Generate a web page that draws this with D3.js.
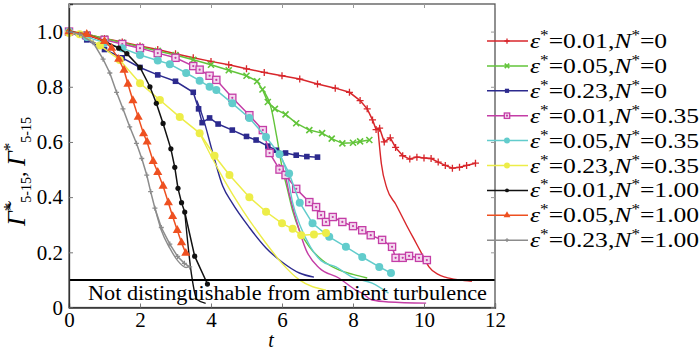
<!DOCTYPE html>
<html>
<head>
<meta charset="utf-8">
<script src="https://cdn.jsdelivr.net/npm/d3@7"></script>
<style>
    body { margin: 0; background: #fff; }
    svg { display: block; }
</style>
</head>
<body>
<svg id="chart" width="700" height="352" font-family="Liberation Serif, Times New Roman, DejaVu Serif, serif"></svg>
<script>
// Gamma* (marked) and Gamma~* (thin) against t
const red01 = [[0,1.0],[0.5,0.99],[1,0.975],[1.5,0.962],[2,0.948],[2.5,0.935],[3,0.92],[3.5,0.905],[4,0.892],[4.5,0.88],[5,0.865],[5.5,0.852],[6,0.84],[6.5,0.828],[7,0.81],[7.5,0.795],[7.9,0.78],[8.2,0.75],[8.4,0.72],[8.55,0.68],[8.65,0.645],[8.75,0.65],[8.88,0.6],[9.05,0.615],[9.2,0.58],[9.4,0.55],[9.6,0.538],[9.8,0.545],[10,0.542],[10.2,0.54],[10.4,0.527],[10.6,0.515],[10.8,0.505],[11,0.508],[11.2,0.515],[11.45,0.523]];
const red01Thin = [[8.7,0.65],[8.8,0.52],[8.96,0.43],[9.2,0.375],[9.5,0.3],[9.78,0.233],[10,0.18],[10.14,0.147],[10.4,0.12],[10.6,0.11],[10.98,0.1],[11.35,0.095]];

const green05 = [[0,1.0],[0.5,0.99],[1,0.975],[1.5,0.96],[2,0.945],[2.5,0.93],[3,0.915],[3.5,0.898],[4,0.88],[4.5,0.86],[5,0.84],[5.3,0.82],[5.45,0.79],[5.6,0.745],[5.8,0.72],[6.1,0.7],[6.4,0.668],[6.77,0.643],[7.13,0.632],[7.4,0.612],[7.7,0.595],[8,0.597],[8.2,0.602],[8.46,0.607]];
const green05Thin = [[5.45,0.79],[5.7,0.72],[5.85,0.62],[6,0.51],[6.15,0.43],[6.3,0.35],[6.49,0.28],[6.77,0.22],[7.13,0.172],[7.6,0.136],[8,0.12],[8.4,0.107]];

const navy23 = [[0,1.0],[0.5,0.97],[1,0.935],[1.5,0.905],[2,0.87],[2.5,0.843],[3,0.82],[3.5,0.78],[3.65,0.72],[3.75,0.67],[3.96,0.687],[4.2,0.665],[4.6,0.643],[5,0.62],[5.27,0.607],[5.6,0.585],[5.84,0.57],[6.1,0.56],[6.4,0.552],[6.7,0.547],[7,0.545]];
const navy23Thin = [[3.6,0.75],[3.77,0.69],[4.05,0.56],[4.33,0.44],[4.6,0.378],[5.08,0.29],[5.55,0.216],[6,0.165],[6.49,0.125],[6.9,0.11]];

const magenta01 = [[0,1.0],[0.5,0.985],[1,0.97],[1.5,0.955],[2,0.94],[2.5,0.922],[3,0.905],[3.5,0.875],[3.68,0.862],[3.96,0.84],[4.15,0.825],[4.6,0.76],[5.08,0.697],[5.46,0.643],[5.65,0.56],[5.93,0.5],[6.1,0.48],[6.4,0.43],[6.77,0.382],[6.96,0.364],[7.1,0.335],[7.24,0.31],[7.43,0.328],[7.7,0.31],[8,0.295],[8.26,0.28],[8.5,0.262],[8.82,0.245],[9.1,0.22],[9.2,0.18],[9.4,0.18],[9.58,0.187],[9.86,0.18],[10.08,0.172]];
const magenta01Thin = [[5.9,0.52],[6.07,0.49],[6.2,0.414],[6.4,0.317],[6.68,0.208],[7.05,0.143],[7.6,0.107],[8.08,0.063],[8.26,0.052],[8.54,0.027],[9,0.02],[10.06,0.016]];

const cyan05 = [[0,1.0],[0.5,0.98],[1,0.96],[1.5,0.94],[2,0.915],[2.5,0.895],[2.84,0.882],[3.3,0.85],[3.68,0.822],[3.96,0.8],[4.15,0.788],[4.6,0.74],[5.08,0.687],[5.55,0.618],[5.93,0.555],[6.2,0.486],[6.5,0.38],[6.86,0.305],[7.33,0.256],[7.8,0.22],[8.26,0.183],[8.74,0.147],[9.07,0.125]];
const cyan05Thin = [[6,0.54],[6.15,0.48],[6.3,0.38],[6.5,0.3],[6.8,0.22],[7.1,0.17],[7.52,0.147],[7.98,0.11],[8.54,0.088],[9,0.052]];

const yellow23 = [[0,0.995],[0.3,0.99],[0.87,0.95],[1.43,0.897],[2,0.813],[2.56,0.752],[3.12,0.69],[3.68,0.632],[4.1,0.55],[4.52,0.48],[5.08,0.4],[5.55,0.347],[6,0.305],[6.3,0.285],[6.54,0.262],[6.9,0.265],[7.24,0.27]];
const yellow23Thin = [[3.68,0.632],[4,0.55],[4.38,0.46],[4.89,0.353],[5.55,0.233],[6,0.16],[6.49,0.1],[7.24,0.063]];

const black01 = [[0,1.0],[0.5,0.99],[1,0.965],[1.4,0.94],[1.63,0.92],[2,0.87],[2.28,0.8],[2.46,0.74],[2.65,0.667],[2.87,0.575],[2.98,0.508],[3.07,0.432],[3.17,0.38],[3.26,0.346],[3.54,0.186],[3.9,0.085]];
const black01Thin = [[3.26,0.346],[3.45,0.12],[3.6,0.03],[3.85,0.015]];

const orange05 = [[0,1.0],[0.5,0.99],[1,0.965],[1.2,0.94],[1.4,0.9],[1.55,0.86],[1.66,0.81],[1.8,0.75],[1.95,0.69],[2.1,0.63],[2.2,0.6],[2.37,0.53],[2.5,0.49],[2.65,0.44],[2.8,0.38],[2.92,0.33],[3.05,0.28],[3.17,0.235],[3.29,0.197]];

const gray23 = [[0,1.0],[0.3,0.99],[0.68,0.96],[0.96,0.9],[1.15,0.85],[1.34,0.78],[1.52,0.72],[1.71,0.655],[1.9,0.595],[2.05,0.54],[2.19,0.48],[2.3,0.42],[2.42,0.36],[2.6,0.29],[2.84,0.23],[3.06,0.185],[3.25,0.16],[3.4,0.147]];
const gray23Thin = [[2.42,0.36],[2.6,0.28],[2.84,0.215],[3.06,0.17],[3.3,0.145],[3.4,0.15]];

const epsLabels = ["0.01", "0.05", "0.23", "0.01", "0.05", "0.23", "0.01", "0.05", "0.23"];
const nLabels = ["0", "0", "0", "0.35", "0.35", "0.35", "1.00", "1.00", "1.00"];
const xTicks = [0, 2, 4, 6, 8, 10, 12];
const yTicks = [0, 0.2, 0.4, 0.6, 0.8, 1.0];

const series = [
    { data: red01, thin: red01Thin, color: '#d8262b', marker: 'plus' },
    { data: green05, thin: green05Thin, color: '#62c43a', marker: 'cross' },
    { data: navy23, thin: navy23Thin, color: '#2c2a8e', marker: 'square' },
    { data: magenta01, thin: magenta01Thin, color: '#c43da6', marker: 'openSquare' },
    { data: cyan05, thin: cyan05Thin, color: '#62cccc', marker: 'bigCircle' },
    { data: yellow23, thin: yellow23Thin, color: '#eded48', marker: 'bigCircle' },
    { data: black01, thin: black01Thin, color: '#111111', marker: 'dot' },
    { data: orange05, thin: null, color: '#ee5020', marker: 'triangle' },
    { data: gray23, thin: gray23Thin, color: '#8c8c8c', marker: 'smallPlus' }
];

const SERIF = 'Liberation Serif, Times New Roman, DejaVu Serif, serif';

const svg = d3.select('#chart');
const margin = { left: 69, right: 495, top: 4, bottom: 307.5 };

const x = d3.scaleLinear().domain([0, 12]).range([margin.left, margin.right]);
const y = d3.scaleLinear().domain([0, 1.1]).range([margin.bottom, margin.top]);

// Draw one marker of the given kind into a group
function addMarker(g, kind, color, s) {
    if (kind === 'plus' || kind === 'smallPlus') {
        const r = (kind === 'plus' ? 3.5 : 2.5) * s;
        g.append('path').attr('d', `M${-r},0H${r}M0,${-r}V${r}`)
            .attr('stroke', color).attr('stroke-width', 1.3).attr('fill', 'none');
    } else if (kind === 'cross') {
        const r = 3 * s;
        g.append('path').attr('d', `M${-r},${-r}L${r},${r}M${-r},${r}L${r},${-r}`)
            .attr('stroke', color).attr('stroke-width', 1.6).attr('fill', 'none');
    } else if (kind === 'square') {
        const r = 2.8 * s;
        g.append('rect').attr('x', -r).attr('y', -r).attr('width', 2 * r).attr('height', 2 * r)
            .attr('fill', color);
    } else if (kind === 'openSquare') {
        const r = 3.6 * s;
        g.append('rect').attr('x', -r).attr('y', -r).attr('width', 2 * r).attr('height', 2 * r)
            .attr('fill', '#f3d8ee').attr('stroke', color).attr('stroke-width', 1.3);
        g.append('circle').attr('r', 1.1).attr('fill', color);
    } else if (kind === 'bigCircle') {
        g.append('circle').attr('r', 4 * s).attr('fill', color);
    } else if (kind === 'dot') {
        g.append('circle').attr('r', 2.6 * s).attr('fill', color);
    } else if (kind === 'triangle') {
        g.append('path').attr('d', d3.symbol(d3.symbolTriangle, 36 * s * s)()).attr('fill', color);
    }
}

const line = d3.line().x(d => x(d[0])).y(d => y(d[1]));
const smooth = d3.line().x(d => x(d[0])).y(d => y(d[1])).curve(d3.curveMonotoneX);

const plot = svg.append('g').attr('class', 'plot');

// Thin (Gamma~) curves first
series.forEach(s => {
    if (!s.thin) return;
    plot.append('path')
        .datum(s.thin)
        .attr('d', smooth)
        .attr('fill', 'none')
        .attr('stroke', s.color)
        .attr('stroke-width', 1.4);
});

// Marked (Gamma) curves
series.forEach(s => {
    plot.append('path')
        .datum(s.data)
        .attr('d', line)
        .attr('fill', 'none')
        .attr('stroke', s.color)
        .attr('stroke-width', 1.5);
    plot.selectAll(null)
        .data(s.data)
        .enter()
        .append('g')
        .attr('transform', d => `translate(${x(d[0])},${y(d[1])})`)
        .each(function() { addMarker(d3.select(this), s.marker, s.color, 1); });
});

// Threshold line at 0.1 and its note
svg.append('line')
    .attr('x1', x(0)).attr('x2', x(12))
    .attr('y1', y(0.1)).attr('y2', y(0.1))
    .attr('stroke', '#000').attr('stroke-width', 2);

svg.append('text')
    .attr('x', 287.5)
    .attr('y', 300)
    .attr('text-anchor', 'middle')
    .attr('font-family', SERIF)
    .attr('font-size', 20)
    .attr('textLength', 399)
    .attr('lengthAdjust', 'spacingAndGlyphs')
    .text('Not distinguishable from ambient turbulence');

// Frame
svg.append('rect')
    .attr('x', margin.left).attr('y', margin.top)
    .attr('width', margin.right - margin.left).attr('height', margin.bottom - margin.top)
    .attr('fill', 'none').attr('stroke', '#555').attr('stroke-width', 1.3);

// Axes with inward ticks
const xAxis = svg.append('g')
    .attr('transform', `translate(0,${margin.bottom})`)
    .call(d3.axisBottom(x).tickValues(xTicks).tickSize(-4).tickPadding(5).tickFormat(d3.format('d')));
const yAxis = svg.append('g')
    .attr('transform', `translate(${margin.left},0)`)
    .call(d3.axisLeft(y).tickValues(yTicks).tickSize(-4).tickPadding(6)
        .tickFormat(d => d === 0 ? '0' : d3.format('.1f')(d)));

[xAxis, yAxis].forEach(a => {
    a.attr('font-family', SERIF);
    a.select('.domain').attr('stroke', '#333').attr('stroke-width', 1.3);
    a.selectAll('.tick line').attr('stroke', '#777');
    a.selectAll('.tick text')
        .attr('font-family', SERIF)
        .attr('font-size', 21)
        .attr('fill', '#000');
});

// Mirrored ticks on top and right
svg.append('g')
    .attr('transform', `translate(0,${margin.top})`)
    .call(d3.axisTop(x).tickValues(xTicks).tickSize(-4).tickFormat(''))
    .call(g => g.select('.domain').remove())
    .selectAll('line').attr('stroke', '#999');
svg.append('g')
    .attr('transform', `translate(${margin.right},0)`)
    .call(d3.axisRight(y).tickValues(yTicks).tickSize(-4).tickFormat(''))
    .call(g => g.select('.domain').remove())
    .selectAll('line').attr('stroke', '#999');

// Axis titles
svg.append('text')
    .attr('x', 271).attr('y', 347)
    .attr('text-anchor', 'middle')
    .attr('font-family', SERIF)
    .attr('font-size', 20)
    .attr('font-style', 'italic')
    .text('t');

const yTitle = svg.append('text')
    .attr('transform', 'translate(25,226) rotate(-90)')
    .attr('font-family', SERIF)
    .attr('font-size', 26);
yTitle.append('tspan').attr('font-style', 'italic').text('\u0393\u0303');
yTitle.append('tspan').attr('font-size', 17).attr('dy', -10).text('*');
yTitle.append('tspan').attr('font-size', 14).attr('dy', 16).text('5-15');
yTitle.append('tspan').attr('font-size', 22).attr('dy', -6).text(', ');
yTitle.append('tspan').attr('font-style', 'italic').text('\u0393');
yTitle.append('tspan').attr('font-size', 17).attr('dy', -10).text('*');
yTitle.append('tspan').attr('font-size', 14).attr('dy', 16).text('5-15');

// Legend
const legend = svg.append('g').attr('class', 'legend');
series.forEach((s, i) => {
    const ly = 41 + i * 24.9;
    const row = legend.append('g').attr('transform', `translate(0,${ly})`);
    row.append('line')
        .attr('x1', 487).attr('x2', 528)
        .attr('stroke', s.color).attr('stroke-width', 1.5);
    addMarker(row.append('g').attr('transform', 'translate(507,0)'), s.marker, s.color, 0.75);

    const t = row.append('text')
        .attr('transform', 'translate(530,7) scale(1.22,1)')
        .attr('font-family', SERIF)
        .attr('font-size', 21);
    t.append('tspan').attr('font-style', 'italic').text('\u03b5');
    t.append('tspan').attr('font-size', 14).attr('dy', -8).text('*');
    t.append('tspan').attr('dy', 8).text(`=${epsLabels[i]},`);
    t.append('tspan').attr('font-style', 'italic').text('N');
    t.append('tspan').attr('font-size', 14).attr('dy', -8).text('*');
    t.append('tspan').attr('dy', 8).text(`=${nLabels[i]}`);
});
</script>
</body>
</html>
